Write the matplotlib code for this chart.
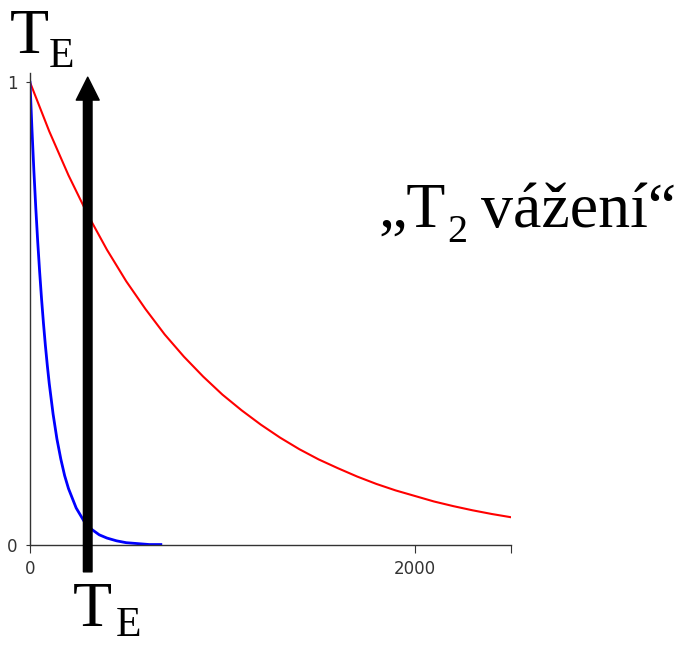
import matplotlib
matplotlib.use("Agg")
import matplotlib.pyplot as plt

# Relaxation curves: signal vs. time (ms)
red_t = [0, 100, 200, 300, 400, 500, 600, 700, 800, 900, 1000, 1100, 1200,
         1300, 1400, 1500, 1600, 1700, 1800, 1900, 2000, 2100, 2200, 2300,
         2400, 2500]
red_s = [1.000, 0.894, 0.799, 0.714, 0.638, 0.570, 0.510, 0.455, 0.407,
         0.364, 0.325, 0.291, 0.260, 0.232, 0.207, 0.185, 0.166, 0.148,
         0.132, 0.118, 0.106, 0.094, 0.084, 0.075, 0.067, 0.060]

blue_t = [0, 10, 20, 30, 40, 50, 60, 70, 80, 90, 100, 120, 140, 160, 180,
          200, 240, 280, 320, 360, 400, 450, 500, 560, 620, 680]
blue_s = [1.000, 0.900, 0.810, 0.729, 0.656, 0.591, 0.532, 0.479, 0.431,
          0.388, 0.349, 0.283, 0.229, 0.186, 0.150, 0.122, 0.080, 0.052,
          0.034, 0.022, 0.015, 0.009, 0.005, 0.003, 0.001, 0.001]

TE = 300
x_ticks = [0, 2000, 2500]
x_tick_labels = ["0", "2000", ""]
y_ticks = [0, 1]
y_tick_labels = ["0", "1"]

W, H = 681, 646
fig = plt.figure(figsize=(W / 100, H / 100), dpi=100)
ax = fig.add_axes([30 / W, (H - 545) / H, 481 / W, 472 / H])

ax.plot(red_t, red_s, color="#ff0000", lw=1.5, solid_joinstyle="round")
ax.plot(blue_t, blue_s, color="#0000ff", lw=2.0, solid_joinstyle="round")

ax.set_xlim(0, 2500)
ax.set_ylim(0, 1.02)
for side in ("top", "right"):
    ax.spines[side].set_visible(False)
for side in ("left", "bottom"):
    ax.spines[side].set_color("#333333")
    ax.spines[side].set_linewidth(1.0)

tick_font = dict(family="DejaVu Sans", size=12)
ax.set_xticks(x_ticks)
ax.set_xticklabels(x_tick_labels, fontdict=tick_font, color="#333333")
ax.set_yticks(y_ticks)
ax.set_yticklabels(y_tick_labels, fontdict=tick_font, color="#333333")
ax.tick_params(axis="x", direction="out", length=6, pad=5, color="#333333")
ax.tick_params(axis="y", direction="out", length=3, pad=6, color="#333333")

# Echo time marker
ax.annotate("", xy=(TE, 1.011), xytext=(TE, -0.058),
            xycoords="data", textcoords="data", annotation_clip=False,
            arrowprops=dict(width=6.2, headwidth=16.5, headlength=16.5,
                            shrink=0.0, facecolor="black", edgecolor="black",
                            clip_on=False))

serif = "Liberation Serif"


def fx(px):
    return px / W


def fy(py):
    return 1 - py / H


# Large labels
fig.text(fx(10), fy(53), "T", family=serif, size=46, va="baseline", ha="left")
fig.text(fx(49), fy(67), "E", family=serif, size=30, va="baseline", ha="left")

fig.text(fx(73), fy(626), "T", family=serif, size=46, va="baseline", ha="left")
fig.text(fx(116), fy(636), "E", family=serif, size=30, va="baseline", ha="left")

fig.text(fx(378), fy(227), "\u201eT", family=serif, size=46, va="baseline", ha="left")
fig.text(fx(447), fy(242), "2", family=serif, size=29, va="baseline", ha="left")
fig.text(fx(481), fy(227), "v\u00e1\u017een\u00ed\u201c", family=serif, size=46,
         va="baseline", ha="left")

fig.savefig("out.png", dpi=100)
